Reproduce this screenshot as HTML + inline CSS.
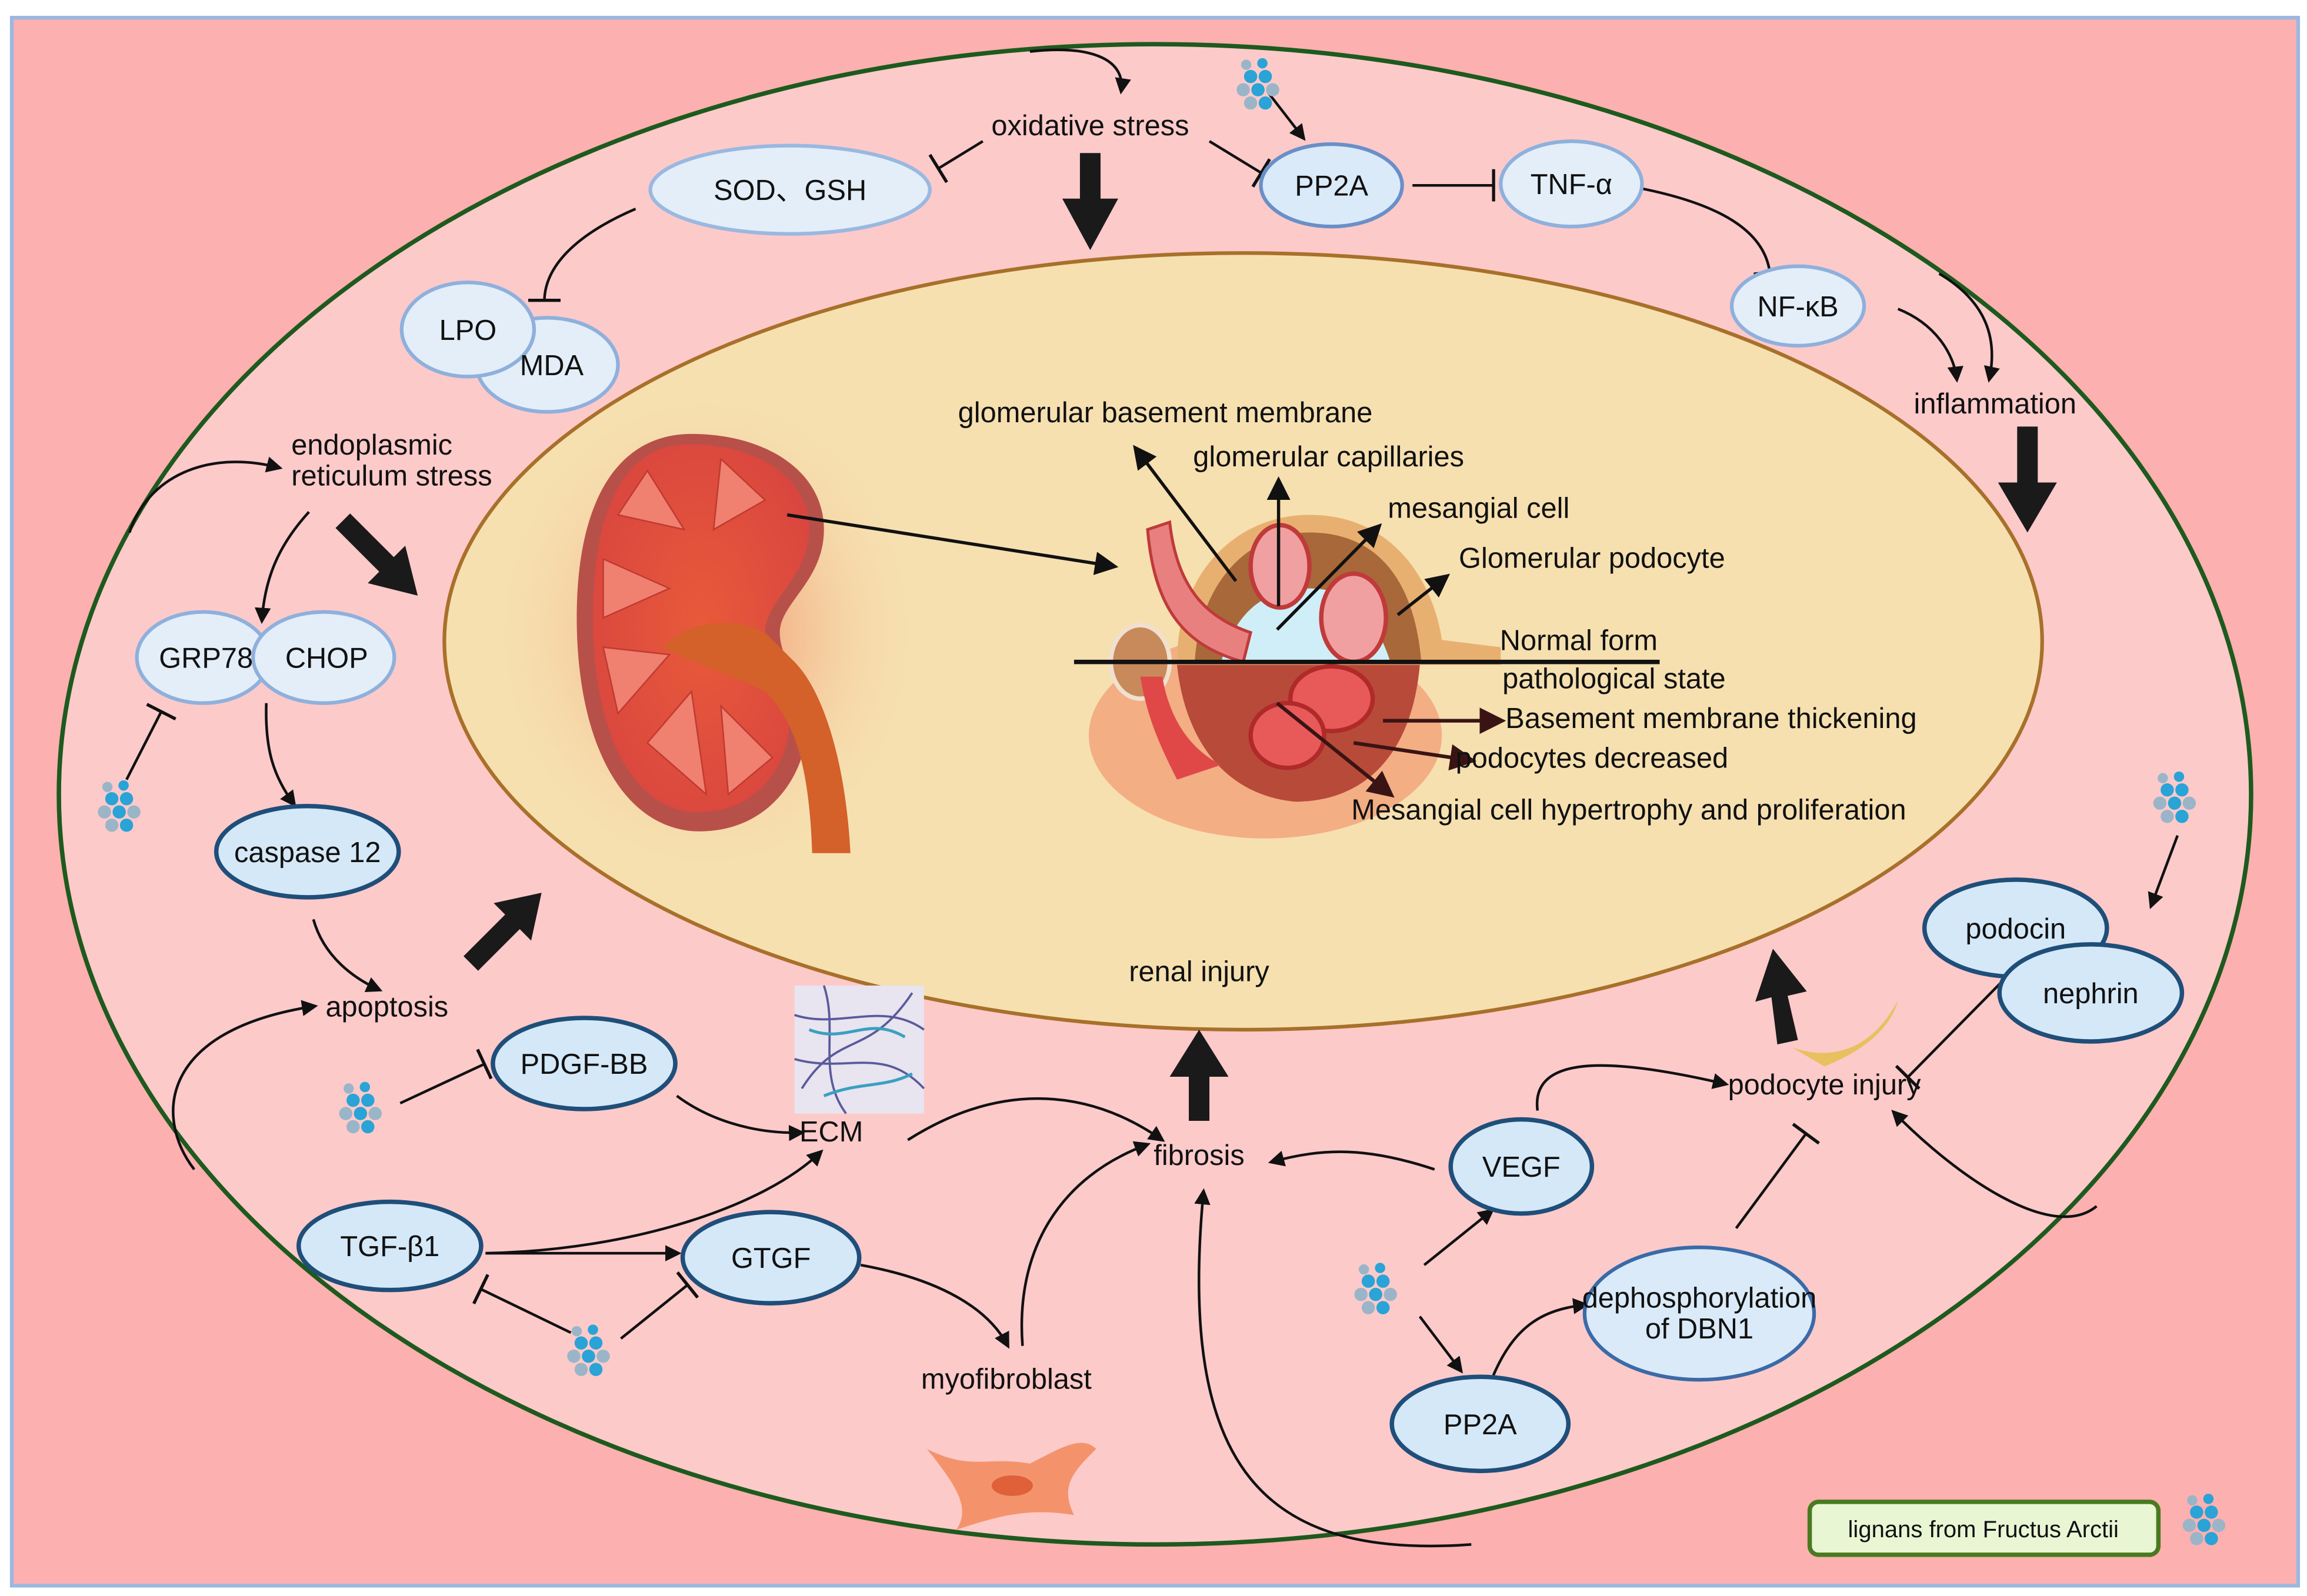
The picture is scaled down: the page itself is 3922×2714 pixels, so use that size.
<!DOCTYPE html>
<html><head><meta charset="utf-8"><style>
html,body{margin:0;padding:0;background:#fff}
svg{display:block}
text{font-family:"Liberation Sans","Noto Sans CJK SC",sans-serif;fill:#111}
</style></head><body>
<svg width="3922" height="2714" viewBox="0 0 1568 1085" xmlns="http://www.w3.org/2000/svg">
<defs>
<marker id="a" viewBox="0 0 10 10" refX="8" refY="5" markerWidth="11" markerHeight="11" orient="auto" markerUnits="userSpaceOnUse"><path d="M0,0 L10,5 L0,10 z" fill="#111"/></marker>
<marker id="ah" viewBox="0 0 10 10" refX="8" refY="5" markerWidth="16" markerHeight="16" orient="auto" markerUnits="userSpaceOnUse"><path d="M0,0 L10,5 L0,10 z" fill="#111"/></marker>
<marker id="ad" viewBox="0 0 10 10" refX="8" refY="5" markerWidth="18" markerHeight="18" orient="auto" markerUnits="userSpaceOnUse"><path d="M0,0 L10,5 L0,10 z" fill="#3a1414"/></marker>
<marker id="t" viewBox="0 0 4 22" refX="2" refY="11" markerWidth="4" markerHeight="22" orient="auto" markerUnits="userSpaceOnUse"><rect x="0" y="0" width="2.2" height="22" fill="#111"/></marker>
<radialGradient id="glow" cx="50%" cy="50%" r="50%"><stop offset="0" stop-color="#f07050" stop-opacity=".8"/><stop offset="1" stop-color="#f6e0b0" stop-opacity="0"/></radialGradient>
<radialGradient id="kid" cx="50%" cy="50%" r="60%"><stop offset="0" stop-color="#e85a3a"/><stop offset="1" stop-color="#d9453f"/></radialGradient>
<g id="mol"><circle cx="0" cy="0" r="4.5" fill="#2aa3d6"/><circle cx="10" cy="0" r="4.5" fill="#2aa3d6"/><circle cx="-5" cy="9" r="4.5" fill="#9bb5c8"/><circle cx="5" cy="9" r="4.5" fill="#2aa3d6"/><circle cx="15" cy="9" r="4.5" fill="#9bb5c8"/><circle cx="0" cy="18" r="4.5" fill="#9bb5c8"/><circle cx="10" cy="18" r="4.5" fill="#2aa3d6"/><circle cx="-3" cy="-8" r="3.5" fill="#9bb5c8"/><circle cx="8" cy="-9" r="3.5" fill="#2aa3d6"/></g>
</defs>
<rect x="0" y="0" width="1568" height="1085" fill="#fff"/>
<rect x="8" y="12" width="1554" height="1066" fill="#fcb0b0" stroke="#9ab8e0" stroke-width="2.5"/>
<ellipse cx="785" cy="540" rx="745" ry="510" fill="#fdcaca" stroke="#1e5a1e" stroke-width="3"/>
<ellipse cx="845" cy="436" rx="543" ry="264" fill="#f6e0b0" stroke="#a8702a" stroke-width="2.5"/>

<!-- kidney -->
<ellipse cx="480" cy="430" rx="150" ry="170" fill="url(#glow)"/>
<path d="M470,295 C420,295 392,340 392,420 C392,500 420,560 470,565 C520,568 545,530 548,500 C550,470 530,450 530,430 C530,410 560,395 560,360 C560,320 520,295 470,295 Z" fill="#b8504a"/>
<path d="M468,302 C425,302 403,345 403,420 C403,495 428,548 470,552 C512,554 532,525 536,498 C538,470 520,452 520,430 C520,408 550,392 550,360 C550,325 515,302 468,302 Z" fill="url(#kid)"/>
<path d="M520,430 C500,420 470,420 450,440 C470,450 500,460 520,470 C540,490 550,520 552,580 L578,580 C575,520 560,470 540,450 Z" fill="#d4602a"/>
<g fill="#f08070" stroke="#c03a30" stroke-width="1"><path d="M440,320 L465,360 L420,350 Z"/><path d="M490,312 L485,360 L520,340 Z"/><path d="M410,380 L455,400 L410,420 Z"/><path d="M410,440 L455,445 L420,485 Z"/><path d="M440,505 L470,470 L480,540 Z"/><path d="M495,540 L490,480 L525,515 Z"/></g>
<!-- glomerulus -->
<ellipse cx="860" cy="500" rx="120" ry="70" fill="#f07050" opacity=".45"/>
<path d="M800,450 C800,390 840,350 890,350 C950,350 975,400 980,435 L1020,440 L1020,452 L800,452 Z" fill="#e8b070"/>
<path d="M812,450 C815,400 845,362 890,362 C940,362 962,400 966,450 Z" fill="#a8683a"/>
<path d="M830,450 C840,415 860,400 890,400 C920,400 935,420 945,450 Z" fill="#cfeef8"/>
<ellipse cx="870" cy="385" rx="20" ry="28" fill="#f0a0a0" stroke="#c03a3a" stroke-width="3"/>
<ellipse cx="920" cy="420" rx="22" ry="30" fill="#f0a0a0" stroke="#c03a3a" stroke-width="3"/>
<path d="M780,360 L795,355 C800,400 820,420 850,430 L845,450 C810,440 785,420 780,360 Z" fill="#e88080" stroke="#c03a3a" stroke-width="2"/>
<ellipse cx="775" cy="450" rx="20" ry="25" fill="#c88a5a" stroke="#f0e0d0" stroke-width="3"/>
<path d="M800,452 C805,500 830,540 880,545 C930,545 960,510 965,452 Z" fill="#b84a3a"/>
<ellipse cx="905" cy="475" rx="28" ry="22" fill="#e85a5a" stroke="#b02a2a" stroke-width="3"/>
<ellipse cx="875" cy="500" rx="25" ry="22" fill="#e85a5a" stroke="#b02a2a" stroke-width="3"/>
<path d="M775,460 L790,460 C795,490 810,510 830,520 L800,530 C790,510 780,490 775,460 Z" fill="#e04848"/>
<line x1="730" y1="450" x2="1128" y2="450" stroke="#111" stroke-width="3"/>
<!-- ECM -->
<rect x="540" y="670" width="88" height="87" fill="#e8e4f0"/>
<g stroke="#5a5a9a" stroke-width="1.5" fill="none"><path d="M540,690 C570,700 600,680 628,700"/><path d="M545,740 C570,700 590,720 620,675"/><path d="M540,720 C575,730 600,710 628,740"/><path d="M560,670 C570,700 555,730 575,757"/></g>
<g stroke="#3aa0c0" stroke-width="2" fill="none"><path d="M550,700 C575,710 590,690 615,705"/><path d="M560,745 C585,735 600,740 620,730"/></g>
<!-- myofibroblast -->
<path d="M630,985 C660,1000 670,990 700,995 C720,985 735,975 745,985 C730,1000 720,1010 730,1030 C700,1025 680,1030 650,1040 C660,1025 650,1010 630,985 Z" fill="#f28a5a" opacity=".85"/>
<ellipse cx="688" cy="1010" rx="14" ry="7" fill="#e0603a"/>
<!-- podocyte -->
<path d="M1218,712 C1240,720 1270,718 1290,680 C1285,700 1265,715 1240,725 Z" fill="#e8c060"/>

<!-- thick arrows -->
<path d="M734,104 L748,104 L748,135 L760,135 L741,170 L722,135 L734,135 Z" fill="#1a1a1a"/>
<path d="M1371,290 L1385,290 L1385,328 L1398,328 L1378,362 L1358,328 L1371,328 Z" fill="#1a1a1a"/>
<path d="M808,762 L822,762 L822,732 L835,732 L815,700 L795,732 L808,732 Z" fill="#1a1a1a"/>
<path d="M1208,710 L1222,707 L1215,677 L1228,674 L1205,645 L1193,681 L1204,678 Z" fill="#1a1a1a"/>
<g transform="translate(233,354) rotate(45)"><path d="M0,-7 L42,-7 L42,-18 L72,0 L42,18 L42,7 L0,7 Z" fill="#1a1a1a"/></g>
<g transform="translate(320,655) rotate(-45)"><path d="M0,-7 L40,-7 L40,-18 L68,0 L40,18 L40,7 L0,7 Z" fill="#1a1a1a"/></g>

<!-- thin connectors -->
<g fill="none" stroke="#111" stroke-width="1.8">
<path d="M700,35 C745,30 765,42 762,62" marker-end="url(#a)"/>
<path d="M668,96 L637,115" marker-end="url(#t)"/>
<path d="M822,96 L858,118" marker-end="url(#t)"/>
<path d="M862,63 L886,94" marker-end="url(#a)"/>
<path d="M960,126 L1016,126" marker-end="url(#t)"/>
<path d="M1115,128 C1175,140 1200,160 1203,186" marker-end="url(#t)"/>
<path d="M1290,210 C1315,220 1328,240 1330,258" marker-end="url(#a)"/>
<path d="M1318,186 C1350,205 1358,230 1352,258" marker-end="url(#a)"/>
<path d="M432,142 C390,160 370,182 370,205" marker-end="url(#t)"/>
<path d="M88,362 C100,325 140,305 190,318" marker-end="url(#a)"/>
<path d="M210,348 C190,370 180,392 178,422" marker-end="url(#a)"/>
<path d="M86,530 L110,483" marker-end="url(#t)"/>
<path d="M181,478 C180,510 186,528 200,547" marker-end="url(#a)"/>
<path d="M213,625 C220,650 240,665 258,673" marker-end="url(#a)"/>
<path d="M132,795 C105,760 108,700 214,684" marker-end="url(#a)"/>
<path d="M272,750 L330,723" marker-end="url(#t)"/>
<path d="M460,745 C480,760 510,771 545,770" marker-end="url(#a)"/>
<path d="M330,852 C430,850 520,820 558,783" marker-end="url(#a)"/>
<path d="M330,852 L461,852" marker-end="url(#a)"/>
<path d="M388,906 L326,876" marker-end="url(#t)"/>
<path d="M422,910 L468,873" marker-end="url(#t)"/>
<path d="M585,860 C640,870 672,890 685,915" marker-end="url(#a)"/>
<path d="M695,915 C690,850 720,800 780,778" marker-end="url(#a)"/>
<path d="M617,775 C680,735 740,740 790,775" marker-end="url(#a)"/>
<path d="M975,795 C930,780 900,780 864,790" marker-end="url(#a)"/>
<path d="M1045,755 C1040,715 1100,720 1173,737" marker-end="url(#a)"/>
<path d="M968,860 L1014,823" marker-end="url(#a)"/>
<path d="M965,895 L993,932" marker-end="url(#a)"/>
<path d="M1015,935 C1030,900 1050,890 1078,887" marker-end="url(#a)"/>
<path d="M1180,835 L1228,770" marker-end="url(#t)"/>
<path d="M1425,820 C1395,845 1330,800 1287,756" marker-end="url(#a)"/>
<path d="M1360,668 L1296,733" marker-end="url(#t)"/>
<path d="M1480,568 L1462,616" marker-end="url(#a)"/>
<path d="M1000,1050 C860,1060 800,1000 818,810" marker-end="url(#a)"/>
</g>
<g fill="none" stroke="#111" stroke-width="2.2">
<path d="M840,395 L772,305" marker-end="url(#ah)"/>
<path d="M869,412 L869,327" marker-end="url(#ah)"/>
<path d="M868,428 L937,358" marker-end="url(#ah)"/>
<path d="M950,418 L983,392" marker-end="url(#ah)"/>
<path d="M535,350 L757,385" marker-end="url(#ah)"/>
</g>
<g fill="none" stroke="#3a1414" stroke-width="2.5">
<path d="M940,490 L1020,490" marker-end="url(#ad)"/>
<path d="M920,505 L1000,517" marker-end="url(#ad)"/>
<path d="M868,478 L945,540" marker-end="url(#ad)"/>
</g>

<!-- nodes -->
<g stroke-width="2.5">
<ellipse cx="537" cy="129" rx="95" ry="30" fill="#e3eef9" stroke="#9ab8e0"/>
<ellipse cx="372" cy="248" rx="48" ry="32" fill="#e3eef9" stroke="#8fb0dc"/>
<ellipse cx="318" cy="224" rx="45" ry="32" fill="#e3eef9" stroke="#8fb0dc"/>
<ellipse cx="905" cy="126" rx="48" ry="28" fill="#dbeaf8" stroke="#6a8fc8"/>
<ellipse cx="1068" cy="125" rx="48" ry="29" fill="#e3eef9" stroke="#8fb0dc"/>
<ellipse cx="1222" cy="208" rx="45" ry="27" fill="#e3eef9" stroke="#8fb0dc"/>
<ellipse cx="138" cy="447" rx="45" ry="31" fill="#e3eef9" stroke="#8fb0dc"/>
<ellipse cx="220" cy="447" rx="48" ry="31" fill="#e3eef9" stroke="#8fb0dc"/>
<ellipse cx="1155" cy="893" rx="78" ry="45" fill="#dbeaf8" stroke="#3a6aa8"/>
</g>
<g stroke-width="3" fill="#d4e8f8" stroke="#1f4e79">
<ellipse cx="209" cy="579" rx="62" ry="31"/>
<ellipse cx="397" cy="723" rx="62" ry="31"/>
<ellipse cx="265" cy="847" rx="62" ry="30"/>
<ellipse cx="524" cy="855" rx="60" ry="31"/>
<ellipse cx="1034" cy="793" rx="48" ry="32"/>
<ellipse cx="1006" cy="968" rx="60" ry="32"/>
<ellipse cx="1370" cy="631" rx="62" ry="33"/>
<ellipse cx="1421" cy="675" rx="62" ry="33"/>
</g>

<!-- molecules -->
<use href="#mol" x="850" y="52"/>
<use href="#mol" x="76" y="543"/>
<use href="#mol" x="240" y="748"/>
<use href="#mol" x="395" y="913"/>
<use href="#mol" x="930" y="871"/>
<use href="#mol" x="1473" y="537"/>
<use href="#mol" x="1493" y="1028"/>

<!-- legend -->
<rect x="1230" y="1021" width="237" height="36" rx="6" fill="#e8f6d4" stroke="#4a7a20" stroke-width="3"/>
<text x="1348" y="1045" font-size="16" text-anchor="middle">lignans from Fructus Arctii</text>

<!-- labels -->
<g font-size="19.5" text-anchor="middle">
<text x="741" y="92">oxidative stress</text>
<text x="537" y="136">SOD、GSH</text>
<text x="318" y="231">LPO</text>
<text x="375" y="255">MDA</text>
<text x="905" y="133">PP2A</text>
<text x="1068" y="132">TNF-α</text>
<text x="1222" y="215">NF-κB</text>
<text x="1356" y="281">inflammation</text>
<text x="140" y="454">GRP78</text>
<text x="222" y="454">CHOP</text>
<text x="209" y="586">caspase 12</text>
<text x="263" y="691">apoptosis</text>
<text x="397" y="730">PDGF-BB</text>
<text x="265" y="854">TGF-β1</text>
<text x="524" y="862">GTGF</text>
<text x="565" y="776">ECM</text>
<text x="815" y="792">fibrosis</text>
<text x="684" y="944">myofibroblast</text>
<text x="1034" y="800">VEGF</text>
<text x="1155" y="889">dephosphorylation</text>
<text x="1155" y="910">of DBN1</text>
<text x="1006" y="975">PP2A</text>
<text x="1370" y="638">podocin</text>
<text x="1421" y="682">nephrin</text>
<text x="1240" y="744">podocyte injury</text>
<text x="815" y="667">renal injury</text>
<text x="792" y="287">glomerular basement membrane</text>
<text x="903" y="317">glomerular capillaries</text>
<text x="1005" y="352">mesangial cell</text>
<text x="1082" y="386">Glomerular podocyte</text>
<text x="1073" y="442">Normal form</text>
<text x="1097" y="468">pathological state</text>
<text x="1163" y="495">Basement membrane thickening</text>
<text x="1082" y="522">podocytes decreased</text>
<text x="1107" y="557">Mesangial cell hypertrophy and proliferation</text>
</g>
<g font-size="19.5"><text x="198" y="309">endoplasmic</text><text x="198" y="330">reticulum stress</text></g>
</svg>
</body></html>
